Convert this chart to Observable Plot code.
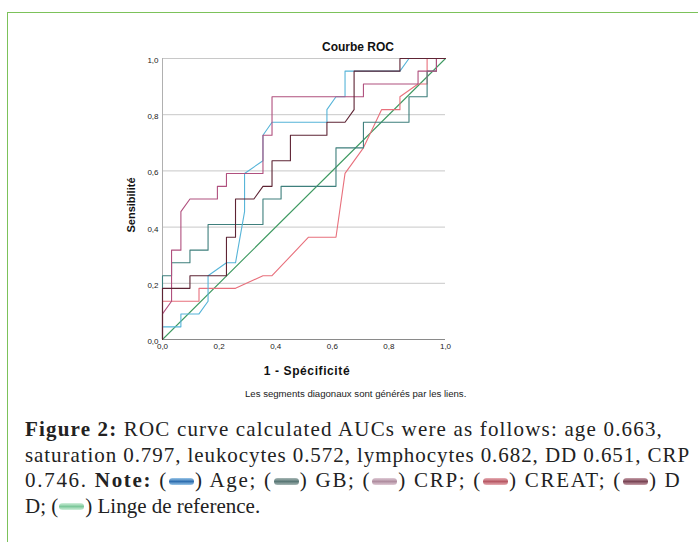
<!DOCTYPE html>
<html><head><meta charset="utf-8">
<script src="https://cdn.jsdelivr.net/npm/d3@7"></script>
<script src="https://cdn.jsdelivr.net/npm/@observablehq/plot@0.6"></script>
<style>
html,body{margin:0;padding:0;background:#fff;}
#page{position:relative;width:698px;height:542px;overflow:hidden;background:#fff;}
#frame{position:absolute;left:7px;top:12px;width:720px;height:560px;border-top:1.5px solid #7cc25a;border-left:1.5px solid #7cc25a;}
#chart{position:absolute;left:0;top:0;}
.t{position:absolute;font-family:"Liberation Sans",Arial,sans-serif;color:#111;white-space:nowrap;}
#title{left:322px;top:40px;font-size:12px;font-weight:bold;}
#ylab{left:131px;top:205px;font-size:11px;font-weight:bold;transform:translate(-50%,-50%) rotate(-90deg);}
#xlab{left:307px;top:371px;font-size:12px;font-weight:bold;letter-spacing:0.6px;transform:translate(-50%,-50%);}
#note{left:245px;top:388px;font-size:9.6px;color:#222;}
#cap{position:absolute;left:25px;top:417px;width:680px;font-family:"Liberation Serif","Times New Roman",serif;font-size:21px;line-height:25.5px;color:#222;}
#cap div{white-space:nowrap;}
#cap div span.ln{display:inline-block;}
.sw{display:inline-block;width:25px;height:7px;border-radius:3.5px;vertical-align:middle;margin:0 1px;position:relative;top:-1px;}
</style></head>
<body><div id="page">
<div id="frame"></div>
<div id="chart"></div>
<div class="t" id="title">Courbe ROC</div>
<div class="t" id="ylab">Sensibilité</div>
<div class="t" id="xlab">1 - Spécificité</div>
<div class="t" id="note">Les segments diagonaux sont générés par les liens.</div>
<div id="cap"></div>
</div>
<script>
// ---- data ----
const seriesNames = ["Ligne de référence","CREAT","GB","Age","CRP","DD"];
const seriesColors = ["#3f9a62","#e8707c","#3e7f7c","#56b4d8","#b0507e","#5e2434"];

const refX = [0, 1];
const refY = [0, 1];

const creatX = [0,0,0.129,0.129,0.258,0.355,0.387,0.516,0.613,0.645,0.710,0.774,0.839,0.839,0.903,0.935,0.935,1];
const creatY = [0,0.136,0.136,0.182,0.182,0.227,0.227,0.364,0.364,0.591,0.682,0.818,0.818,0.864,0.909,0.909,1,1];

const gbX = [0,0,0.032,0.032,0.097,0.097,0.161,0.161,0.355,0.355,0.419,0.419,0.613,0.613,0.710,0.710,0.871,0.871,0.935,0.935,0.968,0.968,1];
const gbY = [0,0.227,0.227,0.273,0.273,0.318,0.318,0.409,0.409,0.5,0.5,0.545,0.545,0.682,0.682,0.773,0.773,0.864,0.864,0.955,0.955,1,1];

const ageX = [0,0,0.065,0.065,0.129,0.161,0.161,0.226,0.258,0.290,0.290,0.355,0.355,0.387,0.581,0.581,0.613,0.645,0.645,0.839,0.871,1];
const ageY = [0,0.045,0.045,0.091,0.091,0.136,0.227,0.273,0.273,0.455,0.591,0.636,0.727,0.773,0.773,0.818,0.864,0.864,0.955,0.955,1,1];

const crpX = [0,0,0.032,0.032,0.065,0.065,0.097,0.194,0.194,0.226,0.226,0.355,0.355,0.387,0.387,0.710,0.710,0.903,0.903,0.968,0.968,1];
const crpY = [0,0.091,0.136,0.318,0.318,0.455,0.5,0.5,0.545,0.545,0.591,0.591,0.727,0.727,0.864,0.864,0.909,0.909,0.955,0.955,1,1];

const ddX = [0,0,0.097,0.097,0.226,0.226,0.258,0.258,0.323,0.355,0.387,0.387,0.452,0.452,0.581,0.581,0.645,0.677,0.677,0.839,0.839,1];
const ddY = [0,0.182,0.182,0.227,0.227,0.364,0.364,0.5,0.5,0.545,0.545,0.636,0.636,0.727,0.727,0.773,0.773,0.818,0.955,0.955,1,1];

const tickValues = [0,0.2,0.4,0.6,0.8,1];
const tickLabels = ["0,0","0,2","0,4","0,6","0,8","1,0"];

// ---- build table ----
const xs = [refX, creatX, gbX, ageX, crpX, ddX];
const ys = [refY, creatY, gbY, ageY, crpY, ddY];
const data = [];
seriesNames.forEach((s, i) => xs[i].forEach((x, j) => data.push({series: s, x, y: ys[i][j]})));
const fmt = v => tickLabels[tickValues.findIndex(t => Math.abs(t - v) < 1e-9)];

const chart = Plot.plot({
  width: 698, height: 400,
  marginLeft: 162, marginRight: 253, marginTop: 58, marginBottom: 61,
  style: {fontFamily: "'Liberation Sans', Arial, sans-serif", fontSize: "8px", color: "#222", background: "transparent"},
  x: {domain: [0, 1], label: null},
  y: {domain: [0, 1], label: null},
  color: {domain: seriesNames, range: seriesColors},
  marks: [
    Plot.gridY(tickValues.slice(1), {stroke: "#c8c8c8", strokeOpacity: 1, strokeWidth: 1}),
    Plot.ruleY([0], {stroke: "#8a8a8a", strokeWidth: 1}),
    Plot.ruleX([0], {stroke: "#b0b0b0", strokeWidth: 1}),
    Plot.line(data, {x: "x", y: "y", z: "series", stroke: "series", strokeWidth: 1.1, curve: "linear"}),
    Plot.axisX(tickValues, {tickSize: 0, tickPadding: 4, tickFormat: fmt, fontSize: 8, label: null}),
    Plot.axisY(tickValues, {tickSize: 0, tickPadding: 4, tickFormat: fmt, fontSize: 8, dy: 2, label: null})
  ]
});
document.getElementById("chart").appendChild(chart);

// ---- caption ----
const capLines = [
  '<b>Figure 2:</b> ROC curve calculated AUCs were as follows: age 0.663,',
  'saturation 0.797, leukocytes 0.572, lymphocytes 0.682, DD 0.651, CRP',
  '0.746. <b>Note:</b> (SW0) Age; (SW1) GB; (SW2) CRP; (SW3) CREAT; (SW4) D',
  'D; (SW5) Linge de reference.'
];
const capWidths = [638, 665, 665, null];
const swatch = [
  "linear-gradient(#9cc8ea,#2f6fb0 50%,#9cc8ea)",
  "linear-gradient(#a8b8b6,#5a7876 50%,#a8b8b6)",
  "linear-gradient(#e0cbd6,#b08ea0 50%,#e0cbd6)",
  "linear-gradient(#e8b0b6,#b85a66 50%,#e8b0b6)",
  "linear-gradient(#c8a0aa,#7a4656 50%,#c8a0aa)",
  "linear-gradient(#d2f0dc,#7cc89a 50%,#d2f0dc)"
];
const cap = document.getElementById("cap");
capLines.forEach((l, i) => {
  const d = document.createElement("div");
  const s = document.createElement("span");
  s.className = "ln";
  s.innerHTML = l.replace(/SW(\d)/g, (m, k) => `<span class="sw" style="background:${swatch[+k]}"></span>`);
  d.appendChild(s);
  cap.appendChild(d);
  if (capWidths[i] != null) {
    const w = s.getBoundingClientRect().width;
    const n = s.textContent.length + (l.match(/SW\d/g) || []).length;
    s.style.letterSpacing = Math.max(0, (capWidths[i] - w) / n) + "px";
  }
});
</script>
</body></html>
